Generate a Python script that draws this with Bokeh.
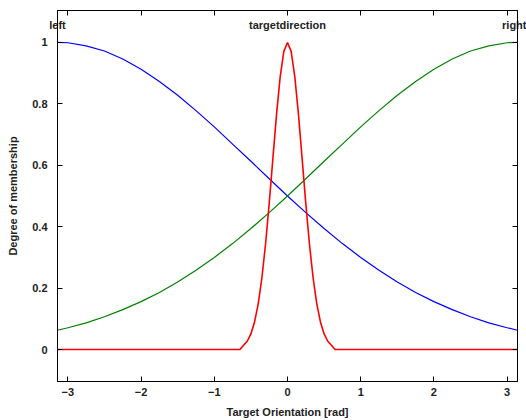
import math
from bokeh.plotting import figure
from bokeh.models import LinearAxis, FixedTicker, Range1d
from bokeh.embed import file_html
from bokeh.resources import INLINE

# --- data ---
x_wide = [-math.pi, -3.0, -2.75, -2.5, -2.25, -2.0, -1.75, -1.5, -1.25, -1.0, -0.75, -0.5, -0.25,
          0.0, 0.25, 0.5, 0.75, 1.0, 1.25, 1.5, 1.75, 2.0, 2.25, 2.5, 2.75, 3.0, math.pi]
left_vals = [1.0, 0.999, 0.989, 0.972, 0.946, 0.913, 0.873, 0.828, 0.778, 0.725, 0.669, 0.613, 0.556,
             0.500, 0.446, 0.394, 0.345, 0.300, 0.258, 0.220, 0.186, 0.156, 0.130, 0.107, 0.087, 0.071, 0.063]
right_vals = list(reversed(left_vals))

x_target = [-math.pi, -0.65, -0.6, -0.55, -0.5, -0.45, -0.4, -0.35, -0.3, -0.25, -0.2, -0.15, -0.1, -0.05,
            0.0, 0.05, 0.1, 0.15, 0.2, 0.25, 0.3, 0.35, 0.4, 0.45, 0.5, 0.55, 0.6, 0.65, math.pi]
target_vals = [0.0, 0.0, 0.014, 0.027, 0.051, 0.090, 0.149, 0.233, 0.343, 0.475, 0.621, 0.765, 0.888, 0.971,
               1.0, 0.971, 0.888, 0.765, 0.621, 0.475, 0.343, 0.233, 0.149, 0.090, 0.051, 0.027, 0.014, 0.0, 0.0]

x_ticks = [-3, -2, -1, 0, 1, 2, 3]
y_ticks = [0, 0.2, 0.4, 0.6, 0.8, 1]
top_labels = ["left", "targetdirection", "right"]
top_label_x = [-math.pi, 0.0, math.pi]

FONT = "Liberation Sans"

p = figure(width=526, height=420, output_backend="svg", toolbar_location=None,
           x_range=Range1d(-math.pi, math.pi), y_range=Range1d(-0.104, 1.104),
           min_border_left=57, min_border_right=9, min_border_top=10, min_border_bottom=39)
p.grid.visible = False
p.outline_line_color = "black"
p.outline_line_width = 1
p.background_fill_color = "white"
p.border_fill_color = "white"

p.line(x_wide, left_vals, line_color="#0000ff", line_width=1.2)
p.line(x_wide, right_vals, line_color="#008000", line_width=1.2)
p.line(x_target, target_vals, line_color="#ff0000", line_width=1.6)

def style_axis(ax):
    ax.major_tick_in = 5
    ax.major_tick_out = 0
    ax.minor_tick_line_color = None
    ax.axis_line_color = "black"
    ax.major_tick_line_color = "black"
    ax.major_label_text_font = FONT
    ax.major_label_text_font_style = "bold"
    ax.major_label_text_font_size = "11px"
    ax.major_label_text_color = "#222222"
    ax.axis_label_text_font = FONT
    ax.axis_label_text_font_style = "bold"
    ax.axis_label_text_font_size = "11px"
    ax.axis_label_text_color = "#222222"

xa = p.xaxis[0]
xa.ticker = FixedTicker(ticks=x_ticks)
xa.axis_label = "Target Orientation [rad]"
style_axis(xa)
xa.major_label_standoff = 6
xa.axis_label_standoff = 7

ya = p.yaxis[0]
ya.ticker = FixedTicker(ticks=y_ticks)
ya.major_label_overrides = {0: "0", 1: "1"}
ya.axis_label = "Degree of membership"
style_axis(ya)
ya.major_label_standoff = 10
ya.axis_label_standoff = 10

# top axis: integer ticks (unlabelled) plus the three named directions drawn inside the box
top_ticks = sorted(set(x_ticks + top_label_x))
top_overrides = {t: "" for t in x_ticks}
for txt, xx in zip(top_labels, top_label_x):
    top_overrides[xx] = txt
top = LinearAxis(ticker=FixedTicker(ticks=top_ticks), major_label_overrides=top_overrides)
style_axis(top)
top.major_label_standoff = -20
p.add_layout(top, "above")

right = LinearAxis(ticker=FixedTicker(ticks=y_ticks),
                   major_label_overrides={t: "" for t in y_ticks})
style_axis(right)
right.major_label_standoff = 0
p.add_layout(right, "right")

open("out.html", "w").write(file_html(p, INLINE))
